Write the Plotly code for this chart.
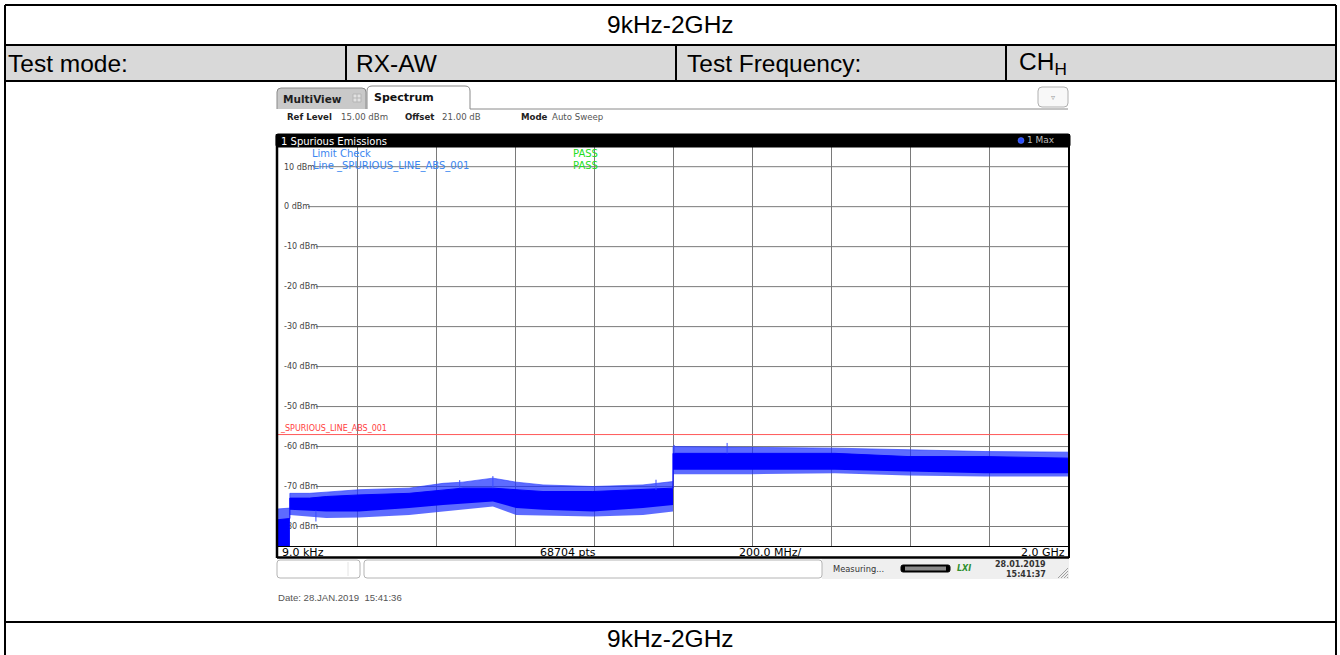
import plotly.graph_objects as go

W, H = 1340, 655

# ---------------- data ----------------
header_title = "9kHz-2GHz"
footer_title = "9kHz-2GHz"
info_cells = ["Test mode:", "RX-AW", "Test Frequency:", "CH<sub>H</sub>"]

# spectrum trace envelope: frequency in MHz, level in dBm
seg1_freq = [0.009, 30.0]
seg1_core_hi = [-78.3, -78.0]
seg1_core_lo = [-85.0, -85.0]
seg1_outer_hi = [-75.6, -75.4]
seg1_outer_lo = [-85.0, -85.0]

seg2_freq = [30, 80, 122, 205, 332, 418, 468, 544, 603, 671, 797, 924, 1000]
seg2_core_hi = [-72.9, -72.9, -72.5, -72.1, -71.7, -70.8, -70.4, -70.4, -70.8, -71.25, -71.25, -70.8, -70.4]
seg2_core_lo = [-75.8, -76.1, -76.25, -76.25, -75.4, -74.6, -74.2, -73.75, -75.4, -75.8, -76.25, -75.4, -74.6]
seg2_outer_hi = [-71.7, -71.7, -71.4, -70.8, -70.4, -69.2, -68.9, -67.9, -68.9, -69.6, -70.0, -69.6, -68.75]
seg2_outer_lo = [-77.1, -77.5, -77.9, -77.75, -77.1, -76.25, -75.8, -75.0, -77.1, -77.25, -77.5, -77.1, -76.25]

seg3_freq = [1000, 1200, 1410, 1595, 1790, 2000]
seg3_core_hi = [-61.7, -61.7, -61.7, -62.5, -62.5, -62.9]
seg3_core_lo = [-65.8, -65.8, -65.8, -66.25, -66.7, -66.7]
seg3_outer_hi = [-60.0, -60.2, -60.4, -60.8, -61.25, -61.4]
seg3_outer_lo = [-66.9, -66.9, -66.7, -67.25, -67.5, -67.5]

# a few isolated peaks visible in the trace
spike_freq = [96, 460, 544, 957, 1003, 1137]
spike_lo = [-76.0, -70.4, -70.4, -70.8, -61.7, -61.7]
spike_hi = [-78.75, -68.4, -67.4, -68.3, -59.6, -59.1]

limit_level = -57
y_ticks = [10, 0, -10, -20, -30, -40, -50, -60, -70, -80]
x_range = [0.009, 2000]
y_range = [-85, 15]
x_div = 200

start_label = "9.0 kHz"
points_label = "68704 pts"
span_label = "200.0 MHz/"
stop_label = "2.0 GHz"

# ---------------- helpers ----------------
def X(p):
    return p / W

def Y(p):
    return 1 - p / H

shapes = []
annotations = []

def add_line(x0, y0, x1, y1, color="black", width=1, layer="above"):
    shapes.append(dict(type="line", xref="paper", yref="paper",
                       x0=X(x0), y0=Y(y0), x1=X(x1), y1=Y(y1),
                       line=dict(color=color, width=width), layer=layer))

def add_rect(x0, y0, x1, y1, fill, color=None, width=0, layer="above"):
    shapes.append(dict(type="rect", xref="paper", yref="paper",
                       x0=X(x0), y0=Y(y0), x1=X(x1), y1=Y(y1),
                       fillcolor=fill,
                       line=dict(color=color or "rgba(0,0,0,0)", width=width),
                       layer=layer))

def rounded_path(x0, y0, x1, y1, r, top_only=False):
    p = []
    if top_only:
        p.append(f"M {X(x0)},{Y(y1)}")
        p.append(f"L {X(x0)},{Y(y0 + r)}")
        p.append(f"Q {X(x0)},{Y(y0)} {X(x0 + r)},{Y(y0)}")
        p.append(f"L {X(x1 - r)},{Y(y0)}")
        p.append(f"Q {X(x1)},{Y(y0)} {X(x1)},{Y(y0 + r)}")
        p.append(f"L {X(x1)},{Y(y1)}")
    else:
        p.append(f"M {X(x0 + r)},{Y(y0)}")
        p.append(f"L {X(x1 - r)},{Y(y0)}")
        p.append(f"Q {X(x1)},{Y(y0)} {X(x1)},{Y(y0 + r)}")
        p.append(f"L {X(x1)},{Y(y1 - r)}")
        p.append(f"Q {X(x1)},{Y(y1)} {X(x1 - r)},{Y(y1)}")
        p.append(f"L {X(x0 + r)},{Y(y1)}")
        p.append(f"Q {X(x0)},{Y(y1)} {X(x0)},{Y(y1 - r)}")
        p.append(f"L {X(x0)},{Y(y0 + r)}")
        p.append(f"Q {X(x0)},{Y(y0)} {X(x0 + r)},{Y(y0)} Z")
    return " ".join(p)

def add_rrect(x0, y0, x1, y1, r, fill, color, width=1, top_only=False):
    shapes.append(dict(type="path", xref="paper", yref="paper",
                       path=rounded_path(x0, y0, x1, y1, r, top_only),
                       fillcolor=fill, line=dict(color=color, width=width),
                       layer="above"))

def add_text(x, y, text, size, color="black", family="DejaVu Sans",
             xanchor="left", yanchor="middle"):
    annotations.append(dict(xref="paper", yref="paper", x=X(x), y=Y(y),
                            text=text, showarrow=False, xanchor=xanchor,
                            yanchor=yanchor, borderpad=0,
                            font=dict(family=family, size=size, color=color)))

DV = {"0": .636, "1": .636, "2": .636, "3": .636, "4": .636, "5": .636,
      "6": .636, "7": .636, "8": .636, "9": .636, "-": .361, " ": .318,
      "d": .635, "B": .686, "m": .974}

def text_width(s, size):
    return sum(DV.get(c, .6) for c in s) * size

# ---------------- table ----------------
TF = "Liberation Sans"
add_rect(5, 45, 1336, 81, "#d9d9d9", layer="below")
for yy in [5, 45, 81, 622]:
    add_line(5, yy, 1336, yy, width=2)
add_line(5, 5, 5, 656, width=2)
add_line(1336, 5, 1336, 656, width=2)
for xx in [346, 676, 1006]:
    add_line(xx, 45, xx, 81, width=2)

add_text(670, 25, header_title, 24.5, family=TF, xanchor="center")
add_text(670, 638, footer_title, 24.5, family=TF, xanchor="center")
cell_x = [7, 355, 686, 1018]
for cx, t in zip(cell_x, info_cells):
    add_text(cx, 63, t, 24.5, family=TF)

# ---------------- analyzer screenshot chrome ----------------
# tabs
add_rrect(277, 88, 366, 109, 4, "#c9c9c9", "#8a8a8a", 1, top_only=True)
add_text(282, 99, "<b>MultiView</b>", 10.5, "#1e1e1e")
add_rect(353, 94, 361, 102, "#e2e2e2", "#b5b5b5", 1)
add_line(357, 94, 357, 102, "#b5b5b5", 1)
add_line(353, 98, 361, 98, "#b5b5b5", 1)
add_rrect(367, 86, 470, 109, 5, "white", "#8a8a8a", 1, top_only=True)
add_text(373, 97, "<b>Spectrum</b>", 11, "#111111")
add_line(470, 109, 1068, 109, "#8a8a8a", 1)
add_rrect(1038, 87, 1068, 107, 4, "#f8f8f8", "#b0b0b0", 1)
add_text(1053, 97, "▿", 8, "#9a9a9a", xanchor="center")

# settings row
add_text(286, 117, "<b>Ref Level</b>", 8.6, "#222")
add_text(340, 117, "15.00 dBm", 8.6, "#555")
add_text(404, 117, "<b>Offset</b>", 8.6, "#222")
add_text(441, 117, "21.00 dB", 8.6, "#555")
add_text(520, 117, "<b>Mode</b>", 8.6, "#222")
add_text(551, 117, "Auto Sweep", 8.6, "#555")

# black header bar
add_rrect(276, 134, 1070, 147, 2, "black", "black", 1)
add_text(280, 141, "1 Spurious Emissions", 10, "white")
shapes.append(dict(type="circle", xref="paper", yref="paper",
                   x0=X(1018), y0=Y(143.5), x1=X(1024), y1=Y(137.5),
                   fillcolor="#2a4dff", line=dict(color="#6f8cff", width=0.5)))
add_text(1026, 140.5, "1 Max", 9, "#bdbdbd")

# frame of the diagram
add_line(277, 134, 277, 558, "black", 2.5)
add_line(1069, 134, 1069, 558, "black", 2)
add_line(277, 546.5, 1069, 546.5, "black", 1)
add_line(277, 557.5, 1069, 557.5, "black", 2.5)
add_text(281, 552, start_label, 11, "black")
add_text(568, 552, points_label, 11, "black", xanchor="center")
add_text(738, 552, span_label, 11, "black")
add_text(1066, 552, stop_label, 11, "black", xanchor="right")

# limit-check texts
add_text(311, 153.5, "Limit Check", 10, "#3a86f0")
add_text(312, 166, "Line _SPURIOUS_LINE_ABS_001", 10, "#3a86f0")
add_text(572, 153.5, "PASS", 10, "#22dd22")
add_text(572, 166, "PASS", 10, "#22dd22")
add_text(279, 428.5, "_SPURIOUS_LINE_ABS_001", 8, "#ff4040")

# status bar
add_rect(822, 559, 1069, 579, "#efefef")
add_rrect(277, 560, 360, 578, 3, "white", "#b4b4b4", 1)
add_line(348, 562, 348, 576, "#e4e4e4", 1)
add_rrect(364, 560, 822, 578, 3, "white", "#b4b4b4", 1)
add_text(832, 568.5, "Measuring...", 8.3, "#333")
add_rrect(901, 565, 950, 572, 2, "black", "black", 1)
add_rect(905, 566.5, 946, 570.5, "#8a8a8a")
add_text(964, 568.5, "<b><i>LXI</i></b>", 8, "#2f8f2f", xanchor="center")
add_text(1047, 564, "<b>28.01.2019</b>", 8, "#333", xanchor="right")
add_text(1047, 574, "<b>15:41:37</b>", 8, "#333", xanchor="right")
for k in range(4):
    add_line(1058 + 3 * k, 578, 1068, 568 + 3 * k, "#a0a0a0", 1)

add_text(277, 597, "Date: 28.JAN.2019  15:41:36", 9.6, "#555", family=TF)

# horizontal grid lines start right after their level labels
for v in y_ticks:
    x0 = 281 + text_width(f"{v} dBm", 8) + 1
    shapes.append(dict(type="line", xref="paper", yref="y",
                       x0=X(x0), x1=X(1068), y0=v, y1=v,
                       line=dict(color="#7a7a7a", width=1), layer="below"))

# ---------------- traces ----------------
freq_all = seg1_freq + seg2_freq + seg3_freq
outer_lo = seg1_outer_lo + seg2_outer_lo + seg3_outer_lo
outer_hi = seg1_outer_hi + seg2_outer_hi + seg3_outer_hi
core_lo = seg1_core_lo + seg2_core_lo + seg3_core_lo
core_hi = seg1_core_hi + seg2_core_hi + seg3_core_hi

fig = go.Figure()
fig.add_trace(go.Scatter(x=freq_all, y=outer_lo, mode="lines",
                         line=dict(width=0, color="rgba(0,0,0,0)"), hoverinfo="skip"))
fig.add_trace(go.Scatter(x=freq_all, y=outer_hi, mode="lines", fill="tonexty",
                         fillcolor="rgba(30,50,255,0.72)",
                         line=dict(width=0.8, color="rgba(40,60,255,0.8)"), hoverinfo="skip"))
fig.add_trace(go.Scatter(x=freq_all, y=core_lo, mode="lines",
                         line=dict(width=0, color="rgba(0,0,0,0)"), hoverinfo="skip"))
fig.add_trace(go.Scatter(x=freq_all, y=core_hi, mode="lines", fill="tonexty",
                         fillcolor="#0000ff",
                         line=dict(width=1, color="#0000ff"), hoverinfo="skip"))

sx, sy = [], []
for f, lo, hi in zip(spike_freq, spike_lo, spike_hi):
    sx += [f, f, None]
    sy += [lo, hi, None]
fig.add_trace(go.Scatter(x=sx, y=sy, mode="lines",
                         line=dict(width=1, color="#3a4cff"), hoverinfo="skip"))

fig.add_trace(go.Scatter(x=x_range, y=[limit_level, limit_level], mode="lines",
                         line=dict(width=1, color="#ff5a5a"), hoverinfo="skip"))

fig.update_layout(
    width=W, height=H, margin=dict(l=0, r=0, t=0, b=0),
    paper_bgcolor="white", plot_bgcolor="rgba(0,0,0,0)",
    showlegend=False,
    xaxis=dict(domain=[X(278), X(1068)], range=x_range, tick0=x_range[0], dtick=x_div,
               showgrid=True, gridcolor="#7a7a7a", gridwidth=1,
               showticklabels=False, ticks="", zeroline=False, showline=False,
               layer="below traces", fixedrange=True),
    yaxis=dict(domain=[Y(546.5), Y(146.7)], range=y_range,
               tickvals=y_ticks, ticktext=[f"{v} dBm" for v in y_ticks],
               ticklabelposition="inside", ticklabelstandoff=3, ticks="",
               showgrid=False, zeroline=False, showline=False,
               tickfont=dict(family="DejaVu Sans", size=8, color="#444"),
               layer="below traces", fixedrange=True),
    shapes=shapes, annotations=annotations,
)

fig.write_html("out.html", config={"displayModeBar": False},
               post_script="document.body.style.margin='0';document.body.style.overflow='hidden';")
